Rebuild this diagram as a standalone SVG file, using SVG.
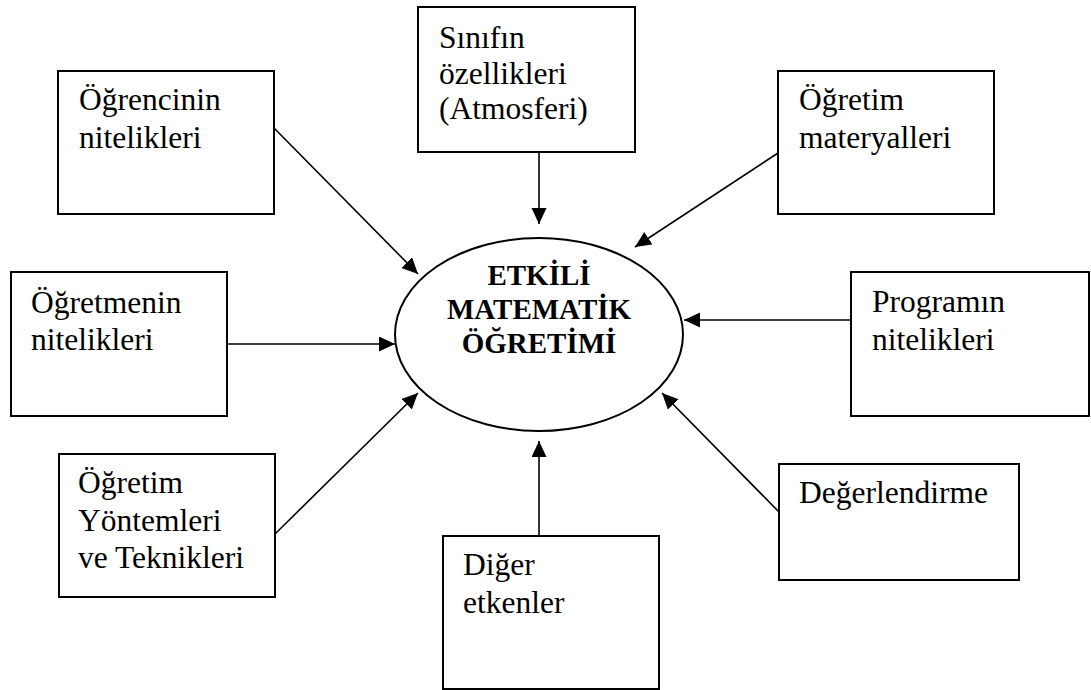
<svg xmlns="http://www.w3.org/2000/svg" width="1091" height="690" viewBox="0 0 1091 690">
<style>
.box{fill:#fff;stroke:#000;stroke-width:2}
.t{font-family:"Liberation Serif","Times New Roman",serif;font-size:31.5px;fill:#000}
.b{font-family:"Liberation Serif","Times New Roman",serif;font-size:29px;font-weight:bold;fill:#000;text-anchor:middle}
.c{stroke:#000;stroke-width:1.6;fill:none;marker-end:url(#ah)}
</style>
<defs>
<marker id="ah" markerUnits="userSpaceOnUse" markerWidth="17" markerHeight="16" refX="16" refY="7.5" orient="auto">
<path d="M0,0 L16,7.5 L0,15 z" fill="#000"/>
</marker>
</defs>
<rect width="1091" height="690" fill="#fff"/>
<g id="connectors">
<line class="c" x1="539" y1="152" x2="539" y2="224"/>
<line class="c" x1="274" y1="128" x2="418" y2="274"/>
<line class="c" x1="778" y1="153" x2="635" y2="247"/>
<line class="c" x1="227" y1="344" x2="395" y2="344"/>
<line class="c" x1="851" y1="320" x2="684" y2="320"/>
<line class="c" x1="275" y1="534" x2="418" y2="393"/>
<line class="c" x1="539" y1="536" x2="539" y2="441"/>
<line class="c" x1="779" y1="512" x2="662" y2="393"/>
</g>
<g id="center">
<ellipse cx="539" cy="334.5" rx="144" ry="96.5" fill="#fff" stroke="#000" stroke-width="2"/>
<text class="b" x="539" y="285">ETKİLİ</text>
<text class="b" x="539" y="319">MATEMATİK</text>
<text class="b" x="539" y="353">ÖĞRETİMİ</text>
</g>
<g id="ogrenci">
<rect class="box" x="58" y="71" width="216" height="143"/>
<text class="t" x="79" y="110">Öğrencinin</text>
<text class="t" x="79" y="148">nitelikleri</text>
</g>
<g id="sinif">
<rect class="box" x="418" y="7" width="217" height="145"/>
<text class="t" x="439" y="48">Sınıfın</text>
<text class="t" x="439" y="84">özellikleri</text>
<text class="t" x="439" y="119">(Atmosferi)</text>
</g>
<g id="materyal">
<rect class="box" x="778" y="71" width="216" height="143"/>
<text class="t" x="799" y="110">Öğretim</text>
<text class="t" x="799" y="148">materyalleri</text>
</g>
<g id="ogretmen">
<rect class="box" x="11" y="272" width="216" height="144"/>
<text class="t" x="31" y="313">Öğretmenin</text>
<text class="t" x="31" y="350">nitelikleri</text>
</g>
<g id="program">
<rect class="box" x="851" y="272" width="238" height="144"/>
<text class="t" x="872" y="312">Programın</text>
<text class="t" x="872" y="350">nitelikleri</text>
</g>
<g id="yontem">
<rect class="box" x="59" y="454" width="216" height="143"/>
<text class="t" x="78" y="493">Öğretim</text>
<text class="t" x="78" y="531">Yöntemleri</text>
<text class="t" x="78" y="568">ve Teknikleri</text>
</g>
<g id="diger">
<rect class="box" x="443" y="536" width="216" height="153"/>
<text class="t" x="463" y="575">Diğer</text>
<text class="t" x="463" y="613">etkenler</text>
</g>
<g id="deger">
<rect class="box" x="779" y="464" width="240" height="116"/>
<text class="t" x="799" y="503">Değerlendirme</text>
</g>
</svg>
